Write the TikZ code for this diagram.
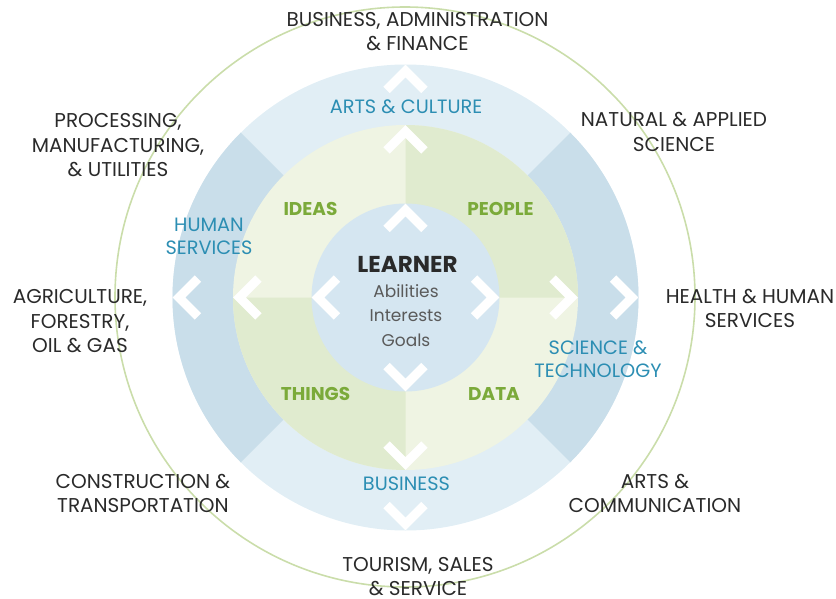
\documentclass[tikz,border=0pt]{standalone}
\usepackage{fontspec}
\setmainfont{Poppins}
\definecolor{ringline}{HTML}{CADDAA}
\definecolor{bluelight}{HTML}{E1EEF5}
\definecolor{bluedark}{HTML}{C9DEEA}
\definecolor{greenlight}{HTML}{EFF4E3}
\definecolor{greendark}{HTML}{E0EBCF}
\definecolor{innerblue}{HTML}{D5E6F1}
\definecolor{bluetext}{HTML}{2C8EB3}
\definecolor{greentext}{HTML}{7BAA3A}
\definecolor{darktext}{HTML}{2A2A2A}
\definecolor{softtext}{HTML}{5A5A5A}
\begin{document}
\begin{tikzpicture}[x=1pt,y=-1pt,
  field/.style={anchor=north,inner sep=0pt,align=center,text=darktext,
    font=\fontsize{20}{24.5}\selectfont},
  pathway/.style={anchor=north,inner sep=0pt,align=center,text=bluetext,
    font=\fontsize{19.3}{23}\selectfont},
  focus/.style={anchor=north,inner sep=0pt,align=center,text=greentext,
    font=\fontsize{18.5}{22}\selectfont\bfseries},
  chevron/.style={draw=white,line width=9pt,line join=miter,line cap=butt}]
\useasboundingbox (0,0) rectangle (836,599);

% outer thin ring
\draw[ringline,line width=1.6pt] (405,297) circle[radius=290];

\begin{scope}[shift={(405.5,297.5)}]
  % blue ring: light top/bottom, darker left/right sectors
  \fill[bluelight] (0,0) circle[radius=233];
  \fill[bluedark] (0,0) -- (-45:233) arc[start angle=-45,end angle=45,radius=233] -- cycle;
  \fill[bluedark] (0,0) -- (135:233) arc[start angle=135,end angle=225,radius=233] -- cycle;
  % green ring with alternating quadrants
  \fill[greenlight] (0,0) circle[radius=172.5];
  \fill[greendark] (0,0) -- (0:172.5) arc[start angle=0,end angle=-90,radius=172.5] -- cycle;
  \fill[greendark] (0,0) -- (180:172.5) arc[start angle=180,end angle=90,radius=172.5] -- cycle;
  % learner circle
  \fill[innerblue] (0,0) circle[radius=94];
  % outward chevrons at the rim of each ring
  \foreach \ang in {0,90,180,270}{
    \foreach \r in {233,172.5,94}{
      \draw[chevron,rotate=\ang] (\r-25.4,-19) -- (\r-6.4,0) -- (\r-25.4,19);
    }
  }
\end{scope}

% occupational fields
\node[field] (bus)    at (417.5,12)   {BUSINESS, ADMINISTRATION\\\& FINANCE};
\node[field] (proc)   at (118,113.5)  {PROCESSING,\\MANUFACTURING,\\\& UTILITIES};
\node[field] (nat)    at (674,112.5)  {NATURAL \& APPLIED\\SCIENCE};
\node[field] (agri)   at (80,289.5)   {AGRICULTURE,\\FORESTRY,\\OIL \& GAS};
\node[field] (health) at (750,289)    {HEALTH \& HUMAN\\SERVICES};
\node[field] (cons)   at (143,474)    {CONSTRUCTION \&\\TRANSPORTATION};
\node[field] (artcom) at (655,474)    {ARTS \&\\COMMUNICATION};
\node[field,text depth=0pt] (tour) at (418,557) {TOURISM, SALES\\\& SERVICE};

% pathways in the blue ring
\node[pathway] (arts)    at (406,99.5)  {ARTS \& CULTURE};
\node[pathway] (human)   at (209,217.5) {HUMAN\\SERVICES};
\node[pathway] (science) at (598,341)   {SCIENCE \&\\TECHNOLOGY};
\node[pathway] (busi)    at (406.5,476.5) {BUSINESS};

% work focus quadrants
\node[focus] (ideas)  at (310.5,202) {IDEAS};
\node[focus] (people) at (500.5,202) {PEOPLE};
\node[focus] (things) at (315.5,387) {THINGS};
\node[focus] (data)   at (494,387)   {DATA};

% learner
\node[anchor=north,inner sep=0pt,text=darktext,font=\fontsize{23}{23}\selectfont\bfseries]
  (learner) at (407.5,256.5) {LEARNER};
\node[anchor=north,inner sep=0pt,align=center,text=softtext,font=\fontsize{17}{24.3}\selectfont]
  (traits) at (406,284.5) {Abilities\\Interests\\Goals};
\end{tikzpicture}
\end{document}
